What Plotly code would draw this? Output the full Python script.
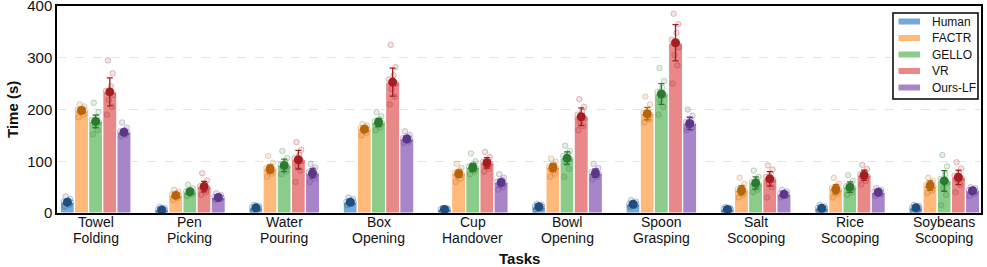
import plotly.graph_objects as go

tasks_line1 = ["Towel", "Pen", "Water", "Box", "Cup", "Bowl", "Spoon", "Salt", "Rice", "Soybeans"]
tasks_line2 = ["Folding", "Picking", "Pouring", "Opening", "Handover", "Opening", "Grasping",
               "Scooping", "Scooping", "Scooping"]
methods = ["Human", "FACTR", "GELLO", "VR", "Ours-LF"]
y_ticks = [0, 100, 200, 300, 400]

mean_human = [21, 6, 10, 21, 7, 12, 17, 7, 9, 10]
mean_factr = [198, 34, 85, 162, 76, 88, 192, 44, 46, 53]
mean_gello = [177, 41, 92, 175, 88, 106, 230, 58, 50, 62]
mean_vr = [234, 51, 103, 253, 97, 186, 329, 66, 73, 69]
mean_ours = [156, 30, 77, 143, 59, 77, 173, 36, 40, 43]

std_human = [4, 2, 3, 4, 2, 3, 3, 2, 3, 3]
std_factr = [5, 4, 8, 5, 7, 8, 12, 9, 9, 9]
std_gello = [12, 5, 12, 8, 8, 12, 20, 12, 10, 20]
std_vr = [27, 10, 18, 27, 10, 17, 35, 14, 10, 14]
std_ours = [5, 3, 9, 5, 6, 8, 12, 4, 4, 6]

trials_human = [[12, 16, 19, 21, 22, 24, 27, 32], [2, 4, 5, 6, 7, 8, 10, 12], [5, 7, 9, 10, 11, 12, 14, 16],
                [15, 18, 20, 21, 22, 24, 27, 30], [3, 5, 6, 7, 7, 8, 9, 10], [6, 9, 11, 12, 13, 14, 16, 18],
                [12, 14, 16, 17, 18, 19, 22, 25], [3, 5, 6, 7, 8, 8, 10, 12], [5, 6, 8, 9, 10, 11, 13, 16],
                [4, 6, 8, 10, 11, 12, 14, 16]]
trials_factr = [[185, 190, 195, 198, 200, 202, 206, 210], [25, 29, 32, 34, 36, 38, 41, 45],
                [70, 76, 80, 84, 87, 90, 97, 110], [150, 155, 159, 162, 164, 166, 169, 172],
                [60, 66, 71, 75, 78, 82, 87, 95], [70, 76, 82, 87, 90, 94, 99, 105],
                [175, 180, 185, 190, 194, 198, 210, 225], [30, 35, 39, 43, 46, 50, 56, 68],
                [30, 36, 40, 45, 48, 52, 57, 68], [38, 43, 48, 52, 55, 58, 62, 68]]
trials_gello = [[152, 160, 168, 175, 180, 186, 195, 213], [33, 36, 38, 40, 42, 44, 48, 55],
                [75, 80, 86, 90, 94, 98, 106, 120], [160, 165, 170, 174, 177, 181, 187, 195],
                [75, 80, 84, 87, 90, 94, 100, 115], [70, 85, 96, 104, 110, 115, 120, 130],
                [190, 205, 218, 228, 234, 242, 255, 280], [40, 45, 50, 55, 60, 64, 70, 82],
                [35, 40, 45, 49, 52, 56, 62, 73], [15, 35, 48, 58, 66, 75, 90, 112]]
trials_vr = [[190, 205, 218, 228, 236, 245, 270, 295], [35, 40, 45, 49, 52, 56, 63, 77],
             [60, 82, 92, 100, 106, 112, 122, 137], [210, 225, 240, 250, 258, 266, 282, 325],
             [80, 86, 91, 95, 99, 103, 108, 118], [160, 168, 176, 183, 190, 196, 205, 220],
             [250, 285, 305, 320, 335, 348, 365, 385], [30, 50, 58, 64, 70, 76, 84, 92],
             [55, 62, 67, 71, 75, 79, 85, 93], [40, 55, 62, 67, 72, 77, 86, 98]]
trials_ours = [[148, 151, 154, 156, 158, 160, 165, 175], [25, 27, 29, 30, 31, 33, 35, 38],
               [60, 66, 71, 75, 79, 83, 88, 95], [135, 138, 141, 143, 145, 147, 151, 158],
               [45, 50, 54, 58, 61, 64, 68, 75], [65, 70, 73, 76, 79, 82, 87, 95],
               [160, 164, 168, 172, 176, 180, 188, 200], [30, 33, 35, 36, 38, 39, 42, 45],
               [33, 36, 38, 40, 41, 43, 45, 48], [33, 37, 40, 42, 44, 46, 48, 50]]

means = [mean_human, mean_factr, mean_gello, mean_vr, mean_ours]
stds = [std_human, std_factr, std_gello, std_vr, std_ours]
trials = [trials_human, trials_factr, trials_gello, trials_vr, trials_ours]

bar_colors = ["#74aad6", "#ffb97b", "#8bcc8b", "#e98889", "#a885c9"]
dark_colors = ["#1f4e80", "#b8650a", "#2a7a2f", "#a51d22", "#5b3789"]
dark_rgb = [(31, 78, 128), (184, 101, 10), (42, 122, 47), (165, 29, 34), (91, 55, 137)]

BW = 0.15
jit = [-0.03, 0.02, -0.01, 0.035, -0.04, 0.01, 0.03, -0.02]
FONT = "Liberation Sans, Arial, sans-serif"

# plot-area geometry (pixels)
W, H = 987, 267
L, R, T, B = 57, 6, 6, 54
PW, PH = W - L - R, H - T - B


def px_x(p):
    return (p - L) / PW


def px_y(p):
    return (H - B - p) / PH


fig = go.Figure()
n = len(tasks_line1)
for j in range(5):
    off = (j - 2) * BW
    xs = [i + off for i in range(n)]
    fig.add_trace(go.Bar(x=xs, y=means[j], width=BW, marker=dict(color=bar_colors[j],
                         line=dict(color="white", width=1.2)), showlegend=False, hoverinfo="skip"))
for j in range(5):
    off = (j - 2) * BW
    pxs, pys = [], []
    for i in range(n):
        for k, v in enumerate(trials[j][i]):
            pxs.append(i + off + jit[k % len(jit)])
            pys.append(v)
    r, g, b = dark_rgb[j]
    fig.add_trace(go.Scatter(x=pxs, y=pys, mode="markers", showlegend=False, hoverinfo="skip",
                             marker=dict(size=5.5, color=f"rgba({r},{g},{b},0.12)",
                                         line=dict(color=f"rgba({r},{g},{b},0.28)", width=1))))
for j in range(5):
    off = (j - 2) * BW
    xs = [i + off for i in range(n)]
    fig.add_trace(go.Scatter(x=xs, y=means[j], mode="markers", showlegend=False,
                             marker=dict(size=9, color=dark_colors[j]),
                             error_y=dict(type="data", array=stds[j], color=dark_colors[j],
                                          thickness=1.3, width=3)))

annotations = []
for i in range(n):
    annotations.append(dict(x=i, y=px_y(222), xref="x", yref="paper", text=tasks_line1[i],
                            showarrow=False, font=dict(size=14, family=FONT, color="#111"),
                            xanchor="center", yanchor="middle"))
    annotations.append(dict(x=i, y=px_y(238), xref="x", yref="paper", text=tasks_line2[i],
                            showarrow=False, font=dict(size=14, family=FONT, color="#111"),
                            xanchor="center", yanchor="middle"))
annotations.append(dict(x=0.5, y=px_y(258), xref="paper", yref="paper", text="<b>Tasks</b>",
                        showarrow=False, font=dict(size=15, family=FONT, color="#111"),
                        xanchor="center", yanchor="middle"))
annotations.append(dict(x=px_x(12), y=px_y(110), xref="paper", yref="paper", text="<b>Time (s)</b>",
                        textangle=-90, showarrow=False, font=dict(size=15, family=FONT, color="#111"),
                        xanchor="center", yanchor="middle"))

# legend (drawn by hand to match compact row spacing)
shapes = [dict(type="rect", xref="paper", yref="paper", x0=px_x(893), x1=px_x(978),
               y0=px_y(99), y1=px_y(13), line=dict(color="black", width=1.5), fillcolor="white",
               layer="above")]
row_y = [21.5, 38, 54.5, 71, 87.5]
for j in range(5):
    shapes.append(dict(type="rect", xref="paper", yref="paper", x0=px_x(898.5), x1=px_x(920),
                       y0=px_y(row_y[j] + 3), y1=px_y(row_y[j] - 3), line=dict(width=0),
                       fillcolor=bar_colors[j], layer="above"))
    annotations.append(dict(x=px_x(930), y=px_y(row_y[j]), xref="paper", yref="paper",
                            text=methods[j], showarrow=False, xanchor="left", yanchor="middle",
                            font=dict(size=12, family=FONT, color="#111")))

fig.update_layout(
    width=W, height=H, margin=dict(l=L, r=R, t=T, b=B),
    paper_bgcolor="white", plot_bgcolor="white", barmode="overlay", showlegend=False,
    font=dict(family=FONT, color="#111"),
    annotations=annotations, shapes=shapes,
    xaxis=dict(range=[-0.41, 9.39], showticklabels=False, showline=True, mirror=True,
               linecolor="black", linewidth=1.5, showgrid=False, zeroline=False, ticks="",
               automargin=False),
    yaxis=dict(range=[0, 400.01], tickvals=y_ticks, tickfont=dict(size=15),
               showline=True, mirror=True, linecolor="black", linewidth=1.5,
               gridcolor="#e4e4e4", griddash="dash", gridwidth=1, zeroline=False, ticks="",
               automargin=False, ticklabeloverflow="allow"),
)
fig.write_html("out.html", config={"displayModeBar": False},
               post_script="document.body.style.margin='0';document.body.style.overflow='hidden';")
